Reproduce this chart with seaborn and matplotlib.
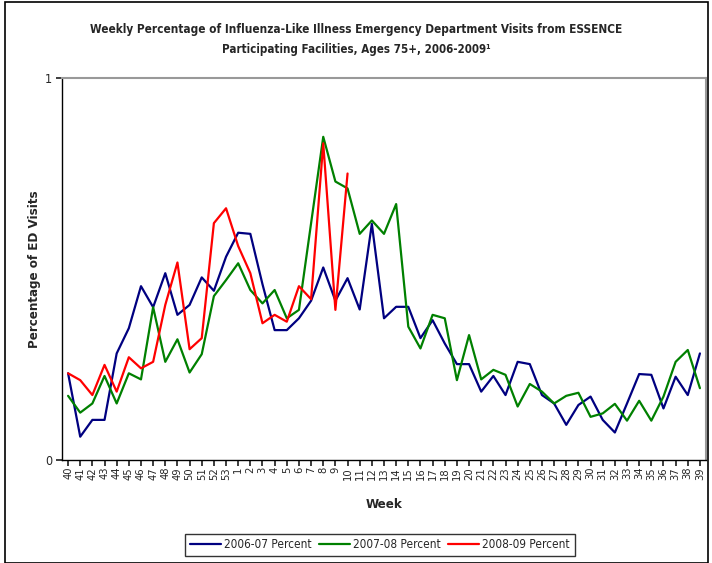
import matplotlib
matplotlib.use("Agg")
import matplotlib.pyplot as plt
import seaborn as sns
import numpy as np
import pandas as pd
from matplotlib.patches import Rectangle

weeks = [str(w) for w in list(range(40, 54)) + list(range(1, 40))]

s0607 = [0.227, 0.061, 0.105, 0.105, 0.279, 0.345, 0.455, 0.400, 0.489, 0.380,
         0.406, 0.478, 0.443, 0.532, 0.595, 0.592, 0.460, 0.340, 0.340, 0.371,
         0.417, 0.504, 0.417, 0.476, 0.394, 0.618, 0.371, 0.401, 0.401, 0.319,
         0.366, 0.305, 0.251, 0.251, 0.179, 0.220, 0.170, 0.257, 0.251, 0.170,
         0.148, 0.092, 0.144, 0.166, 0.105, 0.072, 0.148, 0.225, 0.223, 0.135,
         0.218, 0.170, 0.279]
s0708 = [0.168, 0.124, 0.148, 0.220, 0.148, 0.227, 0.211, 0.400, 0.257, 0.316,
         0.229, 0.277, 0.429, 0.471, 0.515, 0.445, 0.410, 0.445, 0.371, 0.393,
         0.620, 0.846, 0.729, 0.711, 0.592, 0.627, 0.592, 0.670, 0.349, 0.292,
         0.380, 0.371, 0.209, 0.327, 0.211, 0.236, 0.223, 0.140, 0.199, 0.179,
         0.148, 0.168, 0.176, 0.113, 0.122, 0.147, 0.103, 0.155, 0.103, 0.166,
         0.257, 0.288, 0.188]
s0809 = [0.227, 0.209, 0.170, 0.249, 0.179, 0.269, 0.240, 0.257, 0.406, 0.517,
         0.290, 0.319, 0.620, 0.659, 0.560, 0.489, 0.358, 0.380, 0.362, 0.455,
         0.421, 0.829, 0.393, 0.750]

series_names = ["2006-07 Percent", "2007-08 Percent", "2008-09 Percent"]
colors = ["#000080", "#008000", "#FF0000"]

rows = []
for name, vals in zip(series_names, [s0607, s0708, s0809]):
    for i, v in enumerate(vals):
        rows.append({"pos": i, "week": weeks[i], "value": v, "season": name})
df = pd.DataFrame(rows)

sns.set_theme(style="white")
plt.rcParams["font.family"] = ["DejaVu Sans"]
plt.rcParams["font.stretch"] = "condensed"

fig = plt.figure(figsize=(7.12, 5.63), dpi=100)
ax = fig.add_axes([62/712, 1-460/563, (706-62)/712, (460-78)/563])

sns.lineplot(data=df, x="pos", y="value", hue="season", palette=colors,
             linewidth=1.6, ax=ax, sort=False)

ax.set_xlim(-0.5, len(weeks) - 0.5)
ax.set_ylim(0, 1)
ax.set_xticks(range(len(weeks)))
ax.set_xticklabels(weeks, rotation=90, fontsize=8)
ax.set_yticks([0, 1])
ax.set_yticklabels(["0", "1"], fontsize=9)
ax.tick_params(axis="x", length=4, pad=1, direction="out", bottom=True)
ax.tick_params(axis="y", length=4, pad=3, direction="out", left=True)

for side in ["left", "bottom"]:
    ax.spines[side].set_color("black")
    ax.spines[side].set_linewidth(1.0)
for side in ["top", "right"]:
    ax.spines[side].set_color("#999999")
    ax.spines[side].set_linewidth(1.5)

ax.set_xlabel("Week", fontsize=9.5, fontweight="bold", labelpad=13)
ax.set_ylabel("Percentage of ED Visits", fontsize=9.5, fontweight="bold", labelpad=3)

fig.text(0.5, 1-30/563, "Weekly Percentage of Influenza-Like Illness Emergency Department Visits from ESSENCE",
         ha="center", va="center", fontsize=8.5, fontweight="bold")
fig.text(0.5, 1-50/563, "Participating Facilities, Ages 75+, 2006-2009\u00b9",
         ha="center", va="center", fontsize=8.3, fontweight="bold")

leg = ax.legend(loc="center", bbox_to_anchor=(380/712, 1-545/563),
                bbox_transform=fig.transFigure, ncol=3, fontsize=8.5,
                frameon=True, fancybox=False, handlelength=2.6,
                handletextpad=0.3, columnspacing=0.6, borderpad=0.4)
leg.get_frame().set_edgecolor("black")
leg.get_frame().set_linewidth(1.0)

fig.patches.append(Rectangle((5/712, 0), 703/712, 1-2/563, transform=fig.transFigure,
                             fill=False, edgecolor="black", linewidth=1.2))

fig.savefig("out.png", dpi=100)
